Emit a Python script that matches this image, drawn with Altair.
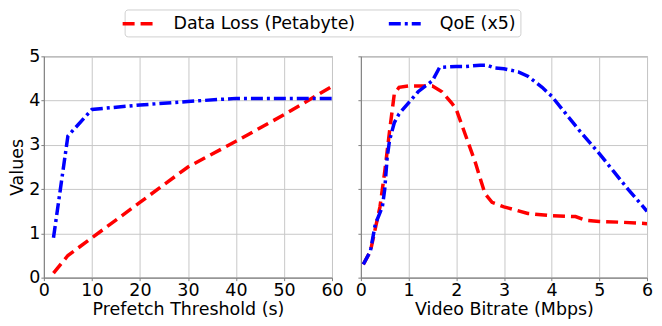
import altair as alt
import pandas as pd

series_names = ["Data Loss (Petabyte)", "QoE (x5)"]
series_colors = ["#ff0000", "#0000ff"]

# Left panel: Prefetch Threshold (s)
prefetch_x = [2, 5, 10, 20, 30, 40, 50, 60]
prefetch_loss = [0.1, 0.5, 0.9, 1.7, 2.5, 3.08, 3.68, 4.32]
prefetch_qoe = [0.9, 3.2, 3.8, 3.9, 3.98, 4.05, 4.05, 4.05]

# Right panel: Video Bitrate (Mbps)
bitrate_x_loss = [0.05, 0.2, 0.3, 0.4, 0.5, 0.6, 0.7, 0.8, 1.0, 1.5, 1.7, 1.9, 2.0,
                  2.2, 2.4, 2.6, 2.75, 3.0, 3.5, 4.0, 4.5, 4.7, 5.0, 5.5, 6.0]
bitrate_loss = [0.3, 0.6, 1.1, 1.6, 2.4, 3.3, 4.15, 4.3, 4.33, 4.33, 4.2, 3.95, 3.8,
                3.2, 2.6, 1.9, 1.7, 1.6, 1.45, 1.4, 1.38, 1.3, 1.27, 1.25, 1.22]
bitrate_x_qoe = [0.05, 0.2, 0.3, 0.45, 0.5, 0.55, 0.6, 0.7, 0.8, 1.0, 1.2, 1.5, 1.65,
                 2.0, 2.2, 2.5, 2.65, 2.8, 3.0, 3.3, 3.5, 3.8, 4.0, 4.3, 4.6, 4.8,
                 5.0, 5.3, 5.6, 5.8, 6.0]
bitrate_qoe = [0.3, 0.6, 1.2, 1.6, 2.0, 2.7, 3.1, 3.5, 3.7, 3.95, 4.2, 4.45, 4.75,
               4.77, 4.77, 4.8, 4.8, 4.74, 4.72, 4.65, 4.55, 4.3, 4.1, 3.7, 3.3, 3.05,
               2.8, 2.4, 2.0, 1.75, 1.5]

y_ticks = [0, 1, 2, 3, 4, 5]
prefetch_ticks = [0, 10, 20, 30, 40, 50, 60]
bitrate_ticks = [0, 1, 2, 3, 4, 5, 6]

left_df = pd.concat([
    pd.DataFrame({"x": prefetch_x, "y": prefetch_loss, "series": series_names[0], "o": range(len(prefetch_x))}),
    pd.DataFrame({"x": prefetch_x, "y": prefetch_qoe, "series": series_names[1], "o": range(len(prefetch_x))}),
])
right_df = pd.concat([
    pd.DataFrame({"x": bitrate_x_loss, "y": bitrate_loss, "series": series_names[0], "o": range(len(bitrate_x_loss))}),
    pd.DataFrame({"x": bitrate_x_qoe, "y": bitrate_qoe, "series": series_names[1], "o": range(len(bitrate_x_qoe))}),
])

FS = 17.5
H = 222
color_scale = alt.Scale(domain=series_names, range=series_colors)
dash_scale = alt.Scale(domain=series_names, range=[[12, 6], [12, 4, 3, 4]])
legend = alt.Legend(
    title=None, orient="none", legendX=81, legendY=-47, direction="horizontal",
    symbolType="M-2,0H2", symbolSize=256, symbolStrokeWidth=3.5,
    labelFontSize=FS, labelColor="black", labelOffset=25, columnPadding=26,
    labelLimit=400, strokeColor="#d0d0d0", cornerRadius=3, padding=4, fillColor="white",
)

y_left = alt.Y("y:Q", scale=alt.Scale(domain=[0, 5]),
               axis=alt.Axis(title="Values", values=y_ticks, titlePadding=2))
y_right = alt.Y("y:Q", scale=alt.Scale(domain=[0, 5]),
                axis=alt.Axis(title=None, labels=False, values=y_ticks))

left = alt.Chart(left_df).mark_line(strokeWidth=3.5, clip=True).encode(
    x=alt.X("x:Q", scale=alt.Scale(domain=[0, 60], nice=False),
            axis=alt.Axis(title="Prefetch Threshold (s)", values=prefetch_ticks)),
    y=y_left,
    color=alt.Color("series:N", scale=color_scale, legend=legend),
    strokeDash=alt.StrokeDash("series:N", scale=dash_scale, legend=legend),
    order="o:Q",
).properties(width=289, height=H)

right = alt.Chart(right_df).mark_line(strokeWidth=3.5, clip=True).encode(
    x=alt.X("x:Q", scale=alt.Scale(domain=[0, 6], nice=False),
            axis=alt.Axis(title="Video Bitrate (Mbps)", values=bitrate_ticks)),
    y=y_right,
    color=alt.Color("series:N", scale=color_scale, legend=legend),
    strokeDash=alt.StrokeDash("series:N", scale=dash_scale, legend=legend),
    order="o:Q",
).properties(width=287, height=H)

chart = alt.hconcat(left, right, spacing=29, bounds="flush").resolve_scale(
    color="shared", strokeDash="shared"
).resolve_legend(color="shared", strokeDash="shared").configure(
    font="DejaVu Sans", padding=0
).configure_view(
    stroke="#808080", strokeWidth=1
).configure_axis(
    labelFontSize=FS, titleFontSize=FS, titleFontWeight="normal",
    labelColor="black", titleColor="black", labelFont="DejaVu Sans", titleFont="DejaVu Sans",
    gridColor="#c8c8c8", gridWidth=1, domainColor="#808080", tickColor="#808080",
    tickSize=3, labelPadding=1, titlePadding=1, labelFlush=False, labelOverlap=False,
)

chart.save("out.html", embed_options={"renderer": "svg", "actions": False})
